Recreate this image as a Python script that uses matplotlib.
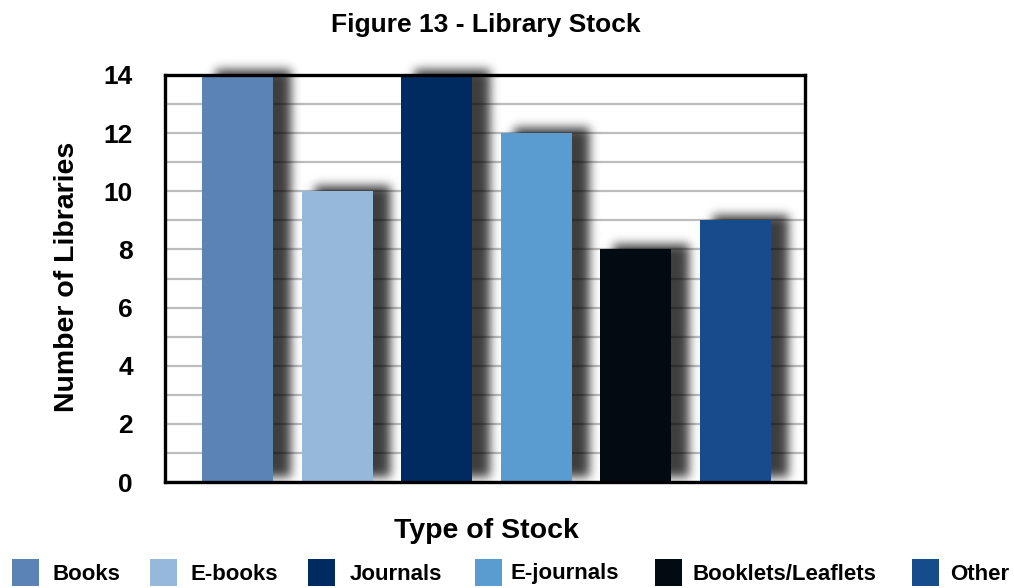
import numpy as np
import matplotlib
matplotlib.use("Agg")
import matplotlib.pyplot as plt
from matplotlib.patches import Rectangle

# Datos
categories = ["Books", "E-books", "Journals", "E-journals", "Booklets/Leaflets", "Other"]
values = [14, 10, 14, 12, 8, 9]
colors = ["#5b84b5", "#95b8db", "#002b60", "#5a9bd0", "#020a12", "#164b8c"]

font = ["Liberation Sans", "DejaVu Sans"]
plt.rcParams["font.family"] = font
plt.rcParams["font.weight"] = "bold"

W, H = 1014, 588
fig = plt.figure(figsize=(W / 100, H / 100), dpi=100)
ax_px = (165, 75, 805, 482)  # izquierda, arriba, derecha, abajo en pixeles
ax = fig.add_axes([ax_px[0] / W, 1 - ax_px[3] / H,
                   (ax_px[2] - ax_px[0]) / W, (ax_px[3] - ax_px[1]) / H])

x = np.arange(len(values))
width = 0.71
xlim = (-0.73, 5.7)
ylim = (0, 14)
ppx = (ax_px[2] - ax_px[0]) / (xlim[1] - xlim[0])   # pixeles por unidad x
ppy = (ax_px[3] - ax_px[1]) / (ylim[1] - ylim[0])   # pixeles por unidad y

# sombra difusa: rectangulo desplazado + desenfoque gaussiano
res = 2
ytop = 14.8
nx = (ax_px[2] - ax_px[0]) * res
ny = int(round((ytop - ylim[0]) * ppy * res))
gx = np.linspace(xlim[0], xlim[1], nx)
gy = np.linspace(ytop, ylim[0], ny)
X, Y = np.meshgrid(gx, gy)
mask = np.zeros_like(X)
for xi, v in zip(x, values):
    inside = ((X >= xi - width / 2 + 13 / ppx) & (X <= xi + width / 2 + 18 / ppx)
              & (Y <= v + 5 / ppy) & (Y >= 5 / ppy))
    mask[inside] = 1.0

sigma = 5 * res
k = np.arange(-int(3 * sigma), int(3 * sigma) + 1)
kern = np.exp(-k ** 2 / (2 * sigma ** 2))
kern /= kern.sum()
pad = len(k)
m = np.pad(mask, pad, mode="constant")
m = np.apply_along_axis(lambda r: np.convolve(r, kern, mode="same"), 1, m)
m = np.apply_along_axis(lambda c: np.convolve(c, kern, mode="same"), 0, m)
m = m[pad:-pad, pad:-pad]
shadow = np.zeros((ny, nx, 4))
shadow[..., 3] = m * 0.76
ax.imshow(shadow, extent=(xlim[0], xlim[1], ylim[0], ytop), aspect="auto",
          interpolation="bilinear", zorder=2, clip_on=False)

ax.bar(x, values, width=width, color=colors, linewidth=0, zorder=3)

ax.set_xlim(*xlim)
ax.set_ylim(*ylim)
ax.set_yticks(range(0, 15, 2))
ax.set_yticks(range(0, 15, 1), minor=True)
ax.set_xticks([])
ax.grid(axis="y", which="both", color="#bdbdbd", linewidth=1.6, zorder=1)
ax.set_axisbelow(True)
ax.tick_params(axis="y", which="both", length=0, pad=23)
for lab in ax.get_yticklabels():
    lab.set_fontweight("bold")
    lab.set_fontsize(19)
for sp in ax.spines.values():
    sp.set_linewidth(2.4)
    sp.set_color("black")
    sp.set_zorder(5)

fig.text(67 / W, 1 - 277 / H, "Number of Libraries", fontweight="bold", fontsize=20.5,
         rotation=90, ha="center", va="center")
fig.text(486 / W, 1 - 531 / H, "Type of Stock", fontweight="bold",
         fontsize=20.5, ha="center", va="center")
fig.text(486 / W, 1 - 25 / H, "Figure 13 - Library Stock", fontweight="bold",
         fontsize=19, ha="center", va="center")

# leyenda inferior
patch_x = [12, 150, 308, 475, 655, 912]
text_x = [53, 190, 350, 511, 693, 950]
for px, tx, c, lab in zip(patch_x, text_x, colors, categories):
    fig.patches.append(Rectangle((px / W, 1 - 586 / H), 27 / W, 27 / H,
                                 transform=fig.transFigure, facecolor=c,
                                 edgecolor="none"))
    fig.text(tx / W, 1 - 574 / H, lab, fontweight="bold", fontsize=16,
             ha="left", va="center")

fig.savefig("out.png", dpi=100)
